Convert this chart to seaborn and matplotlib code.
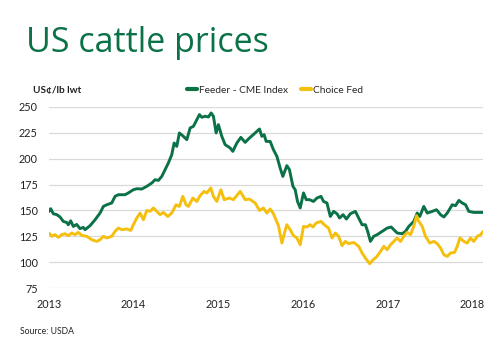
import numpy as np
import pandas as pd
import matplotlib
matplotlib.use("Agg")
import matplotlib.pyplot as plt
import seaborn as sns

# ---- data (decimal years, US cents / lb live weight) ----
feeder_t = [2013.000, 2013.020, 2013.051, 2013.091, 2013.130, 2013.169, 2013.209, 2013.228, 2013.256, 2013.287,
            2013.327, 2013.366, 2013.405, 2013.426, 2013.485, 2013.544, 2013.603, 2013.642, 2013.682, 2013.741,
            2013.780, 2013.819, 2013.898, 2013.937, 2013.996, 2014.037, 2014.096, 2014.155, 2014.214, 2014.253,
            2014.292, 2014.332, 2014.371, 2014.410, 2014.450, 2014.478, 2014.509, 2014.540, 2014.587, 2014.628,
            2014.667, 2014.706, 2014.746, 2014.777, 2014.805, 2014.844, 2014.883, 2014.915, 2014.942, 2014.974,
            2015.001, 2015.041, 2015.080, 2015.139, 2015.171, 2015.219, 2015.266, 2015.317, 2015.368, 2015.435,
            2015.486, 2015.514, 2015.541, 2015.565, 2015.612, 2015.651, 2015.692, 2015.730, 2015.762, 2015.809,
            2015.840, 2015.881, 2015.908, 2015.935, 2015.967, 2016.006, 2016.038, 2016.077, 2016.124, 2016.164,
            2016.212, 2016.242, 2016.282, 2016.322, 2016.361, 2016.401, 2016.431, 2016.472, 2016.511, 2016.558,
            2016.617, 2016.656, 2016.696, 2016.735, 2016.762, 2016.794, 2016.833, 2016.874, 2016.933, 2016.992,
            2017.039, 2017.070, 2017.110, 2017.169, 2017.208, 2017.247, 2017.306, 2017.346, 2017.377, 2017.424,
            2017.465, 2017.524, 2017.574, 2017.622, 2017.661, 2017.701, 2017.760, 2017.799, 2017.838, 2017.878,
            2017.917, 2017.956, 2018.015, 2018.126]
feeder_v = [149, 151.7, 146.8, 146, 143.7, 139.4, 138.4, 136.2, 140, 134.6,
            136.5, 132.4, 133.6, 131.4, 135.3, 141, 147.5, 153.9, 155.5, 157.2,
            163.6, 165.2, 165.2, 166.9, 170, 171, 170.7, 173.3, 176.5, 179.7,
            179, 182.9, 189.4, 195.9, 203.9, 215.2, 211.9, 224.9, 221.6, 218.4,
            229.7, 231.3, 237.7, 242.6, 240, 241, 240.3, 244.2, 241, 224.9,
            232.9, 221.6, 213.6, 210.4, 207.1, 215.2, 220.6, 215.8, 220, 224.9,
            228.7, 221.6, 223.2, 216.7, 216.7, 208.7, 202.2, 191, 182.9, 193.3,
            189.4, 173.3, 170, 158.7, 152.4, 166.9, 160.4, 160.4, 158.7, 162,
            163.6, 158.7, 157.2, 144.2, 149.1, 146.8, 142.7, 145.9, 141.7, 146.8,
            149.1, 142.7, 136.2, 136.2, 129.8, 120.1, 125, 126.6, 129.8, 133,
            134, 131.4, 128.2, 127.5, 129.8, 134.6, 139.4, 147.5, 144.2, 153.9,
            147.5, 149.1, 150.7, 145.9, 143.7, 147.5, 155.5, 154.6, 159.7, 157.2,
            155.5, 149.1, 148.1, 148.1]

choice_t = [2013.000, 2013.032, 2013.071, 2013.110, 2013.150, 2013.189, 2013.228, 2013.268, 2013.307, 2013.346,
            2013.387, 2013.446, 2013.505, 2013.564, 2013.603, 2013.642, 2013.682, 2013.741, 2013.780, 2013.819,
            2013.859, 2013.918, 2013.966, 2013.996, 2014.037, 2014.076, 2014.115, 2014.155, 2014.194, 2014.233,
            2014.273, 2014.312, 2014.351, 2014.403, 2014.450, 2014.501, 2014.540, 2014.580, 2014.619, 2014.647,
            2014.699, 2014.746, 2014.785, 2014.832, 2014.864, 2014.911, 2014.942, 2014.982, 2015.030, 2015.069,
            2015.131, 2015.178, 2015.258, 2015.317, 2015.368, 2015.435, 2015.486, 2015.533, 2015.573, 2015.612,
            2015.651, 2015.710, 2015.751, 2015.781, 2015.809, 2015.849, 2015.888, 2015.928, 2015.967, 2016.006,
            2016.046, 2016.085, 2016.117, 2016.156, 2016.212, 2016.251, 2016.301, 2016.342, 2016.381, 2016.420,
            2016.460, 2016.499, 2016.538, 2016.597, 2016.656, 2016.696, 2016.735, 2016.786, 2016.826, 2016.865,
            2016.913, 2016.952, 2016.992, 2017.031, 2017.070, 2017.110, 2017.149, 2017.188, 2017.228, 2017.267,
            2017.306, 2017.338, 2017.365, 2017.405, 2017.444, 2017.495, 2017.543, 2017.583, 2017.622, 2017.661,
            2017.701, 2017.740, 2017.787, 2017.819, 2017.850, 2017.897, 2017.937, 2017.976, 2018.015, 2018.056,
            2018.095, 2018.126]
choice_v = [128.2, 125, 126.6, 124, 126.6, 127.5, 125.6, 128.2, 126.6, 128.8,
            125.9, 125, 121.7, 120.1, 121.7, 125, 123.4, 125, 129.8, 133,
            131.4, 132.1, 130.7, 136.2, 142.7, 147.5, 141, 150, 149.1, 152.4,
            149.1, 145.9, 148.1, 144.2, 147.5, 155.5, 153.9, 163.6, 155.5, 153.9,
            162, 158.7, 164.3, 168.4, 166.9, 171.7, 163.6, 158.7, 170, 160.4,
            162, 160.4, 168.4, 160.4, 161, 157.2, 150, 152.4, 147.5, 151.4,
            146.8, 135.3, 118.5, 128.2, 136.2, 131.4, 125.6, 123.4, 116.9, 134.6,
            134, 136.2, 134, 137.9, 139.4, 136.2, 133, 123.4, 128.2, 125,
            116, 120.1, 117.9, 119.1, 115.3, 108.9, 104, 98.5, 102.4, 105,
            110.4, 115.3, 112.1, 116.9, 120.1, 123.4, 120.1, 125, 128.8, 126.6,
            134.6, 144.9, 139.4, 134.6, 125, 118.5, 120.1, 117.9, 113.7, 107.2,
            105.6, 108.9, 109.5, 115.3, 123.4, 120.1, 118.5, 123.4, 120.1, 125,
            126.6, 129.8]

series_names = ["Feeder - CME Index", "Choice Fed"]
year_ticks = [2013, 2014, 2015, 2016, 2017, 2018]
y_ticks = [75, 100, 125, 150, 175, 200, 225, 250]

GREEN = "#0b7146"
GOLD = "#f4bf0d"


def to_date(t):
    t = np.asarray(t, dtype=float)
    yr = np.floor(t).astype(int)
    frac = t - yr
    starts = pd.to_datetime([f"{y}-01-01" for y in yr])
    ends = pd.to_datetime([f"{y + 1}-01-01" for y in yr])
    return starts + (ends - starts) * frac


df = pd.concat([
    pd.DataFrame({"date": to_date(feeder_t), "price": feeder_v, "series": series_names[0]}),
    pd.DataFrame({"date": to_date(choice_t), "price": choice_v, "series": series_names[1]}),
])

sns.set_theme(style="white")
plt.rcParams["font.family"] = ["Lato", "DejaVu Sans"]

fig = plt.figure(figsize=(5, 3.45), dpi=100)
ax = fig.add_axes([0.098, 0.165, 0.868, 0.525])

sns.lineplot(data=df, x="date", y="price", hue="series", hue_order=series_names,
             palette=[GREEN, GOLD], linewidth=2.1, ax=ax, legend=True, estimator=None, sort=False)

ax.set_ylim(75, 250)
ax.set_xlim(pd.Timestamp("2013-01-01"), pd.Timestamp("2018-02-15"))
ax.set_yticks(y_ticks)
ax.set_xticks([pd.Timestamp(f"{y}-01-01") for y in year_ticks])
ax.set_xticklabels([str(y) for y in year_ticks])
ax.grid(axis="y", color="#d9d9d9", linewidth=0.9)
ax.set_axisbelow(True)
for s in ax.spines.values():
    s.set_visible(False)
ax.tick_params(axis="both", length=0, labelsize=7.8, colors="#222222")
ax.tick_params(axis="y", pad=8)
ax.tick_params(axis="x", pad=8)
ax.set_xlabel("")
ax.set_ylabel("")

handles, labels = ax.get_legend_handles_labels()
ax.legend(handles, labels, loc="center", bbox_to_anchor=(275 / 500, 1 - 90 / 345),
          bbox_transform=fig.transFigure, ncol=2, frameon=False, fontsize=7.3,
          handlelength=1.0, handletextpad=0.2, columnspacing=1.2)
for line in ax.get_legend().get_lines():
    line.set_linewidth(3)

fig.text(26 / 500, 1 - 52.3 / 345, "US cattle prices", color=GREEN, fontsize=24.5,
         va="baseline", ha="left", family=["Open Sans", "DejaVu Sans"], fontweight="normal")
fig.text(33 / 500, 1 - 90 / 345, "US¢/lb lwt", fontsize=7.2, fontweight="bold",
         va="center", ha="left", color="#222222")
fig.text(20 / 500, 1 - 331 / 345, "Source: USDA", fontsize=6.2, va="center", ha="left", color="#222222")

fig.savefig("out.png", dpi=100)
